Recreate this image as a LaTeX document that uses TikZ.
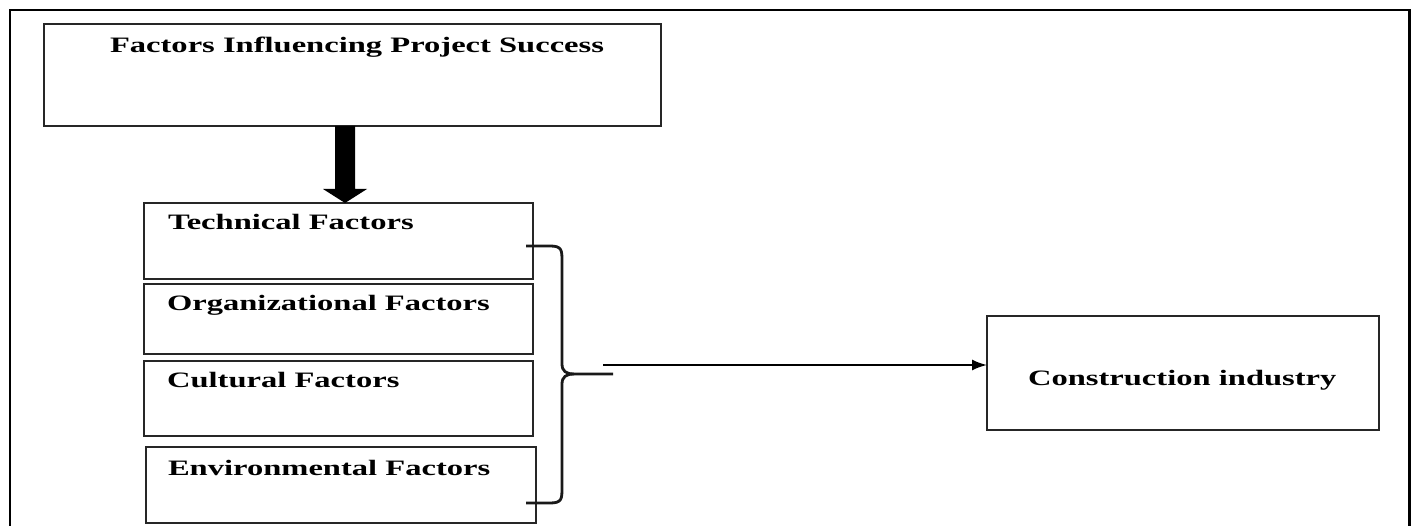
\documentclass[tikz,border=0pt]{standalone}
\usepackage{fontspec}
\setmainfont{Liberation Serif}
\usetikzlibrary{arrows.meta}
\newcommand{\wtxt}[1]{\scalebox{1.48}[1]{\bfseries\fontsize{22}{26}\selectfont #1}}
\tikzset{
  box/.style={draw=black!85, line width=1.8pt, fill=none, inner sep=0pt, outer sep=0pt, anchor=north west},
  lbl/.style={anchor=base west, inner sep=0pt, outer sep=0pt},
  frame/.style={line width=2.8pt, draw=black},
  brace/.style={line width=2.8pt, draw=black!90, line cap=butt},
  conn/.style={line width=2pt, -{Latex[length=15pt,width=11pt]}},
}
\begin{document}
\begin{tikzpicture}[x=1pt,y=-1pt]
\useasboundingbox (0,0) rectangle (1412,526);
% outer frame (open at bottom)
\draw[frame] (10,530) -- (10,10) -- (1409.5,10) -- (1409.5,530);
% boxes
\node[box, minimum width=617pt, minimum height=102pt] (top) at (44,24) {};
\node[box, minimum width=389pt, minimum height=76pt] (tech) at (144,203) {};
\node[box, minimum width=389pt, minimum height=70pt] (org) at (144,284) {};
\node[box, minimum width=389pt, minimum height=75pt] (cult) at (144,361) {};
\node[box, minimum width=390pt, minimum height=76pt] (env) at (146,447) {};
\node[box, minimum width=392pt, minimum height=114pt] (cons) at (987,316) {};
% texts
\node[lbl] (ttitle) at (110,53) {\wtxt{Factors Influencing Project Success}};
\node[lbl] (ttech) at (168,230) {\wtxt{Technical Factors}};
\node[lbl] (torg) at (167,311) {\wtxt{Organizational Factors}};
\node[lbl] (tcult) at (167,387) {\wtxt{Cultural Factors}};
\node[lbl] (tenv) at (168,475) {\wtxt{Environmental Factors}};
\node[lbl] (tcons) at (1028,385) {\wtxt{Construction industry}};
% thick block arrow from top box to technical box
\coordinate (topS) at (top.south -| 345,0);
\coordinate (techN) at (tech.north -| 345,0);
\fill[black] (topS) ++(-10,0) -- ++(20,0) -- (355,189) -- (367,189) -- (techN) -- (323,189) -- (335,189) -- cycle;
% brace
\coordinate (bt) at (526,246);
\coordinate (bb) at (526,503);
\coordinate (bm) at (613,374);
\draw[brace] (bt) -- (550,246) .. controls (562,246) and (562,250) .. (562,262)
  -- (562,364) .. controls (562,371) and (566,374) .. (574,374) -- (bm);
\draw[brace] (bb) -- (550,503) .. controls (562,503) and (562,499) .. (562,487)
  -- (562,384) .. controls (562,377) and (566,374) .. (574,374);
% connector
\coordinate (astart) at (603,365);
\draw[conn] (astart) -- (astart -| cons.west);
\end{tikzpicture}
\end{document}
